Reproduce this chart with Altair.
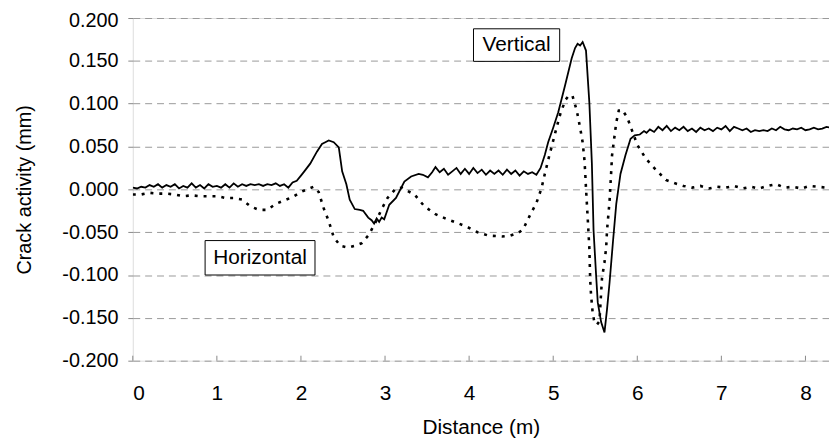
import altair as alt
import pandas as pd

# ---- data ----
vert_x = [0.00, 0.05, 0.10, 0.15, 0.20, 0.25, 0.30, 0.35, 0.40, 0.45, 0.50, 0.55, 0.60, 0.65, 0.70,
          0.75, 0.80, 0.85, 0.90, 0.95, 1.00, 1.05, 1.10, 1.15, 1.20, 1.25, 1.30, 1.35, 1.40, 1.45,
          1.50, 1.55, 1.60, 1.65, 1.70, 1.75, 1.80, 1.85, 1.90, 1.95, 2.00, 2.04, 2.11, 2.19, 2.25,
          2.29, 2.33, 2.39, 2.45, 2.49, 2.54, 2.58, 2.64, 2.70, 2.74, 2.80, 2.84, 2.87, 2.90, 2.93,
          2.96, 2.99, 3.05, 3.13, 3.23, 3.31, 3.40, 3.45, 3.51, 3.56, 3.60, 3.65, 3.70, 3.75, 3.80,
          3.85, 3.90, 3.95, 4.00, 4.05, 4.10, 4.15, 4.20, 4.25, 4.30, 4.35, 4.40, 4.45, 4.50, 4.55,
          4.60, 4.65, 4.70, 4.75, 4.80, 4.85, 4.90, 4.94, 5.00, 5.06, 5.14, 5.22, 5.26, 5.29, 5.32,
          5.35, 5.39, 5.43, 5.46, 5.48, 5.51, 5.53, 5.57, 5.61, 5.64, 5.67, 5.71, 5.75, 5.80, 5.86,
          5.92, 5.97, 6.03, 6.08, 6.11, 6.15, 6.20, 6.25, 6.30, 6.35, 6.40, 6.45, 6.50, 6.55, 6.60,
          6.65, 6.70, 6.75, 6.80, 6.85, 6.90, 6.95, 7.00, 7.05, 7.10, 7.15, 7.20, 7.25, 7.30, 7.35,
          7.40, 7.45, 7.50, 7.55, 7.60, 7.65, 7.70, 7.75, 7.80, 7.85, 7.90, 7.95, 8.00, 8.05, 8.10,
          8.15, 8.20, 8.25, 8.30]
vert_y = [0.002, 0.001, 0.003, 0.002, 0.005, 0.003, 0.006, 0.002, 0.005, 0.003, 0.006, 0.001, 0.004, 0.002, 0.007,
          0.002, 0.005, 0.001, 0.006, 0.003, 0.004, 0.002, 0.006, 0.002, 0.007, 0.003, 0.006, 0.004, 0.006, 0.005,
          0.006, 0.004, 0.006, 0.005, 0.007, 0.004, 0.006, 0.002, 0.008, 0.010, 0.016, 0.021, 0.030, 0.044, 0.053,
          0.055, 0.057, 0.055, 0.049, 0.021, 0.006, -0.012, -0.023, -0.024, -0.025, -0.033, -0.036, -0.040, -0.034, -0.038,
          -0.033, -0.035, -0.018, -0.010, 0.009, 0.015, 0.018, 0.017, 0.014, 0.020, 0.026, 0.020, 0.024, 0.017, 0.021,
          0.025, 0.018, 0.024, 0.018, 0.025, 0.019, 0.023, 0.017, 0.022, 0.018, 0.022, 0.017, 0.023, 0.018, 0.022,
          0.016, 0.021, 0.018, 0.020, 0.017, 0.025, 0.040, 0.055, 0.072, 0.090, 0.121, 0.153, 0.165, 0.170, 0.168,
          0.172, 0.162, 0.101, 0.030, -0.048, -0.100, -0.132, -0.155, -0.167, -0.140, -0.109, -0.062, -0.017, 0.018, 0.040,
          0.059, 0.063, 0.064, 0.068, 0.066, 0.070, 0.067, 0.073, 0.069, 0.074, 0.068, 0.072, 0.069, 0.073, 0.068,
          0.071, 0.067, 0.072, 0.069, 0.071, 0.068, 0.072, 0.070, 0.074, 0.068, 0.073, 0.071, 0.069, 0.071, 0.067,
          0.069, 0.068, 0.069, 0.068, 0.071, 0.069, 0.073, 0.070, 0.069, 0.071, 0.070, 0.072, 0.069, 0.070, 0.072,
          0.070, 0.071, 0.073, 0.072]

horiz_x = [0.00, 0.10, 0.20, 0.30, 0.40, 0.50, 0.60, 0.70, 0.80, 0.90, 1.00, 1.10, 1.20, 1.30, 1.40,
           1.50, 1.60, 1.70, 1.80, 1.90, 2.00, 2.10, 2.15, 2.21, 2.27, 2.33, 2.39, 2.47, 2.56, 2.64,
           2.72, 2.80, 2.88, 2.96, 3.03, 3.13, 3.20, 3.27, 3.35, 3.47, 3.60, 3.74, 3.88, 3.98, 4.10,
           4.23, 4.39, 4.49, 4.58, 4.64, 4.72, 4.80, 4.86, 4.90, 4.95, 4.99, 5.04, 5.09, 5.15, 5.19,
           5.23, 5.28, 5.32, 5.35, 5.37, 5.38, 5.39, 5.41, 5.43, 5.44, 5.45, 5.47, 5.49, 5.52, 5.55,
           5.58, 5.61, 5.63, 5.64, 5.67, 5.69, 5.70, 5.75, 5.78, 5.82, 5.88, 5.94, 6.00, 6.10, 6.22,
           6.34, 6.45, 6.55, 6.65, 6.75, 6.85, 6.95, 7.05, 7.15, 7.25, 7.35, 7.45, 7.55, 7.65, 7.75,
           7.85, 7.95, 8.05, 8.15, 8.25, 8.30]
horiz_y = [-0.006, -0.006, -0.004, -0.005, -0.005, -0.006, -0.008, -0.007, -0.008, -0.008, -0.008, -0.010, -0.010, -0.012, -0.020,
           -0.024, -0.024, -0.017, -0.013, -0.009, -0.003, 0.001, 0.003, -0.003, -0.022, -0.037, -0.056, -0.066, -0.068, -0.066,
           -0.063, -0.054, -0.040, -0.023, -0.010, 0.001, 0.002, -0.002, -0.006, -0.020, -0.029, -0.035, -0.040, -0.044, -0.050,
           -0.054, -0.055, -0.054, -0.051, -0.047, -0.031, -0.016, 0.001, 0.018, 0.038, 0.053, 0.072, 0.090, 0.105, 0.110,
           0.109, 0.092, 0.072, 0.055, 0.036, 0.021, 0.001, -0.033, -0.069, -0.106, -0.123, -0.145, -0.155, -0.158, -0.154,
           -0.104, -0.085, -0.068, -0.048, -0.014, 0.021, 0.040, 0.078, 0.092, 0.093, 0.084, 0.068, 0.052, 0.036, 0.023,
           0.011, 0.007, 0.004, 0.002, 0.004, 0.001, 0.003, 0.002, 0.004, 0.001, 0.003, 0.001, 0.004, 0.006, 0.002,
           0.003, 0.001, 0.004, 0.003, 0.002, 0.003]

x_ticks = [0, 1, 2, 3, 4, 5, 6, 7, 8]
y_ticks = [-0.2, -0.15, -0.1, -0.05, 0.0, 0.05, 0.1, 0.15, 0.2]

labels = ["Vertical", "Horizontal"]
label_x0 = [4.052, 0.860]
label_x1 = [5.077, 2.167]
label_y0 = [0.1494, -0.100]
label_y1 = [0.1874, -0.0598]

FONT = "Liberation Sans"
W, H = 703, 346

vert = pd.DataFrame({"d": vert_x, "v": vert_y})
horiz = pd.DataFrame({"d": horiz_x, "v": horiz_y})
ann = pd.DataFrame({"label": labels, "x0": label_x0, "x1": label_x1, "y0": label_y0, "y1": label_y1})
ann["xc"] = (ann["x0"] + ann["x1"]) / 2
ann["yc"] = (ann["y0"] + ann["y1"]) / 2
ticks = pd.DataFrame({"t": x_ticks})

xs = alt.Scale(domain=[0, 8.28], nice=False, zero=False)
ys = alt.Scale(domain=[-0.2, 0.2], nice=False, zero=False)

xaxis = alt.Axis(values=x_ticks, format="d", grid=False, domain=False, ticks=False, labelPadding=22,
                 labelFontSize=21, labelFont=FONT, labelColor="black",
                 title="Distance (m)", titleFontSize=21, titleFont=FONT, titleFontWeight="normal",
                 titleColor="black", titlePadding=14)
yaxis = alt.Axis(values=y_ticks, grid=True, gridDash=[7, 5], gridColor="#999999", gridWidth=1,
                 domain=False, ticks=True, tickSize=5, tickColor="#888888",
                 labelExpr="(datum.value < 0 ? '-' : '') + format(abs(datum.value), '.3f')",
                 labelOffset=alt.condition("datum.value > 0.19", alt.value(3), alt.value(0)),
                 labelPadding=10, labelFontSize=20, labelFont=FONT, labelColor="black",
                 title="Crack activity (mm)", titleFontSize=20, titleFont=FONT,
                 titleFontWeight="normal", titleColor="black", titlePadding=28)

base_v = alt.Chart(vert).mark_line(color="black", strokeWidth=1.8, clip=True).encode(
    x=alt.X("d:Q", scale=xs, axis=xaxis),
    y=alt.Y("v:Q", scale=ys, axis=yaxis),
)
base_h = alt.Chart(horiz).mark_line(color="black", strokeWidth=2.6, strokeDash=[3, 6], clip=True).encode(
    x=alt.X("d:Q", scale=xs),
    y=alt.Y("v:Q", scale=ys),
)
tick_marks = alt.Chart(ticks).mark_rule(color="#888888", strokeWidth=1).encode(
    x=alt.X("t:Q", scale=xs),
    y=alt.value(H - 5),
    y2=alt.value(H),
)
boxes = alt.Chart(ann).mark_rect(fill="white", stroke="black", strokeWidth=1).encode(
    x=alt.X("x0:Q", scale=xs), x2="x1:Q",
    y=alt.Y("y0:Q", scale=ys), y2="y1:Q",
)
texts = alt.Chart(ann).mark_text(fontSize=21, font=FONT, color="black", align="center",
                                 baseline="middle").encode(
    x=alt.X("xc:Q", scale=xs),
    y=alt.Y("yc:Q", scale=ys),
    text="label:N",
)

chart = alt.layer(tick_marks, base_h, base_v, boxes, texts).properties(
    width=W, height=H,
    autosize=alt.AutoSizeParams(type="none"),
    padding={"left": 126, "top": 8, "right": 0, "bottom": 80},
).configure_view(stroke="#888888", strokeWidth=1).configure(background="white")

chart.save("out.html", embed_options={"renderer": "svg", "actions": False})
